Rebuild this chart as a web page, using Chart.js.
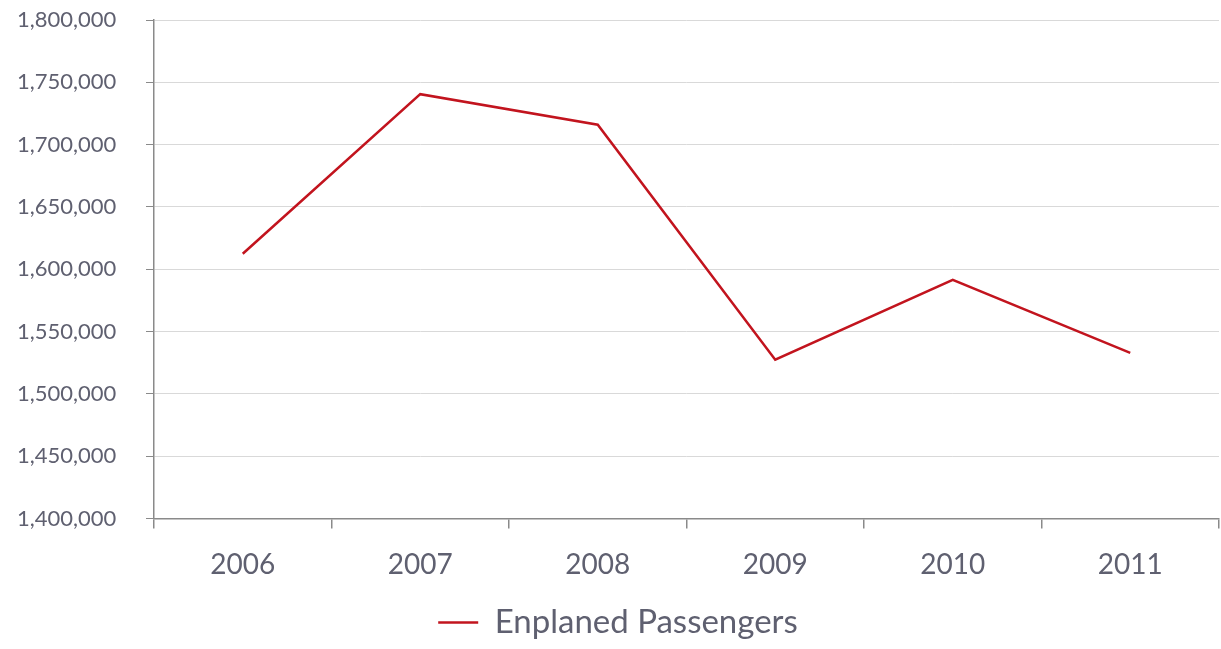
<!DOCTYPE html>
<html>
<head>
<meta charset="utf-8">
<script src="https://cdn.jsdelivr.net/npm/chart.js@4"></script>
<style>
  body { margin: 0; background: #fff; }
  #wrap { width: 1221px; height: 649px; }
</style>
</head>
<body>
<div id="wrap"><canvas id="passengerChart"></canvas></div>
<script>
const years = ["2006", "2007", "2008", "2009", "2010", "2011"];
const enplaned = [1612500, 1740500, 1716000, 1527500, 1591500, 1533000];
const yTicks = [1400000, 1450000, 1500000, 1550000, 1600000, 1650000, 1700000, 1750000, 1800000];

const textColor = "#5f6070";
const axisColor = "#8a8a8a";
const gridColor = "#d9d9d9";

const ctx = document.getElementById("passengerChart").getContext("2d");

const chart = new Chart(ctx, {
  type: "line",
  data: {
    labels: years,
    datasets: [{
      label: "Enplaned Passengers",
      data: enplaned,
      borderColor: "#c2141e",
      backgroundColor: "#c2141e",
      borderWidth: 2.5,
      pointRadius: 0,
      tension: 0,
      fill: false
    }]
  },
  options: {
    animation: false,
    responsive: true,
    maintainAspectRatio: false,
    layout: { padding: { left: 17, right: 2, top: 20, bottom: 0 } },
    scales: {
      x: {
        offset: true,
        grid: {
          offset: true,
          drawOnChartArea: false,
          tickLength: 10,
          tickColor: axisColor,
          lineWidth: 1.5
        },
        border: { color: axisColor, width: 1.5 },
        ticks: {
          color: textColor,
          padding: 22,
          font: { family: "Lato", size: 28, lineHeight: 1.05 }
        }
      },
      y: {
        min: 1400000,
        max: 1800000,
        afterBuildTicks: (scale) => {
          scale.ticks = yTicks.map(v => ({ value: v }));
        },
        afterFit: (scale) => { scale.width = 137; },
        grid: {
          color: gridColor,
          tickColor: axisColor,
          tickLength: 8,
          lineWidth: 1
        },
        border: { color: axisColor, width: 1.5 },
        ticks: {
          color: textColor,
          padding: 2,
          crossAlign: "far",
          font: { family: "Lato", size: 22 },
          callback: (v) => v.toLocaleString("en-US")
        }
      }
    },
    plugins: {
      legend: {
        display: true,
        position: "bottom",
        labels: {
          color: textColor,
          usePointStyle: true,
          pointStyle: "line",
          pointStyleWidth: 40,
          font: { family: "Lato", size: 33 },
          padding: 4
        }
      },
      tooltip: { enabled: false }
    }
  }
});
</script>
</body>
</html>
